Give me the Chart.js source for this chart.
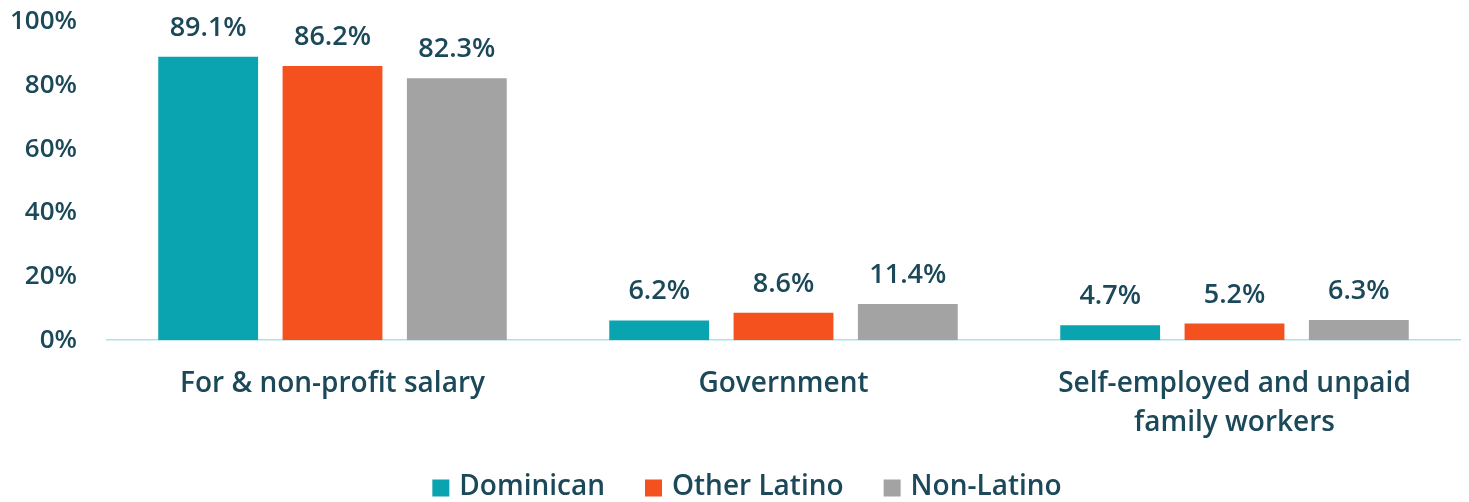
<!DOCTYPE html>
<html>
<head>
<meta charset="utf-8">
<script src="https://cdn.jsdelivr.net/npm/chart.js@4/dist/chart.umd.min.js"></script>
<style>
  html, body { margin: 0; padding: 0; background: #ffffff; }
  #wrap { width: 1469px; height: 502px; position: relative; }
</style>
</head>
<body>
<div id="wrap"><canvas id="c"></canvas></div>
<script>
// Class of worker by group
const categories = [
  'For & non-profit salary',
  'Government',
  ['Self-employed and unpaid', 'family workers']
];
const seriesNames = ['Dominican', 'Other Latino', 'Non-Latino'];
const dominican = [89.1, 6.2, 4.7];
const otherLatino = [86.2, 8.6, 5.2];
const nonLatino = [82.3, 11.4, 6.3];
const yTicks = [0, 20, 40, 60, 80, 100];

const textColor = '#1c4959';
const fontFamily = '"Open Sans", "Noto Sans", sans-serif';
const colors = ['#0aa4b1', '#f4511f', '#a3a3a3'];

// Draws each bar's value above it
const valueLabels = {
  id: 'valueLabels',
  afterDatasetsDraw(chart) {
    const ctx = chart.ctx;
    ctx.save();
    ctx.font = '600 27px ' + fontFamily;
    ctx.fillStyle = textColor;
    ctx.textAlign = 'center';
    ctx.textBaseline = 'alphabetic';
    chart.data.datasets.forEach((ds, i) => {
      chart.getDatasetMeta(i).data.forEach((bar, j) => {
        ctx.fillText(ds.data[j].toFixed(1) + '%', bar.x, bar.y - 21);
      });
    });
    ctx.restore();
  }
};

// Legend row under the axis: square swatch, short gap, series name
const swatchLegend = {
  id: 'swatchLegend',
  afterDraw(chart) {
    const ctx = chart.ctx;
    const box = 17, gapText = 10, gapItem = 40, centerX = 747, midY = 487;
    ctx.save();
    ctx.font = '600 28px ' + fontFamily;
    ctx.textBaseline = 'middle';
    ctx.textAlign = 'left';
    const items = chart.data.datasets.map(ds => ({
      text: ds.label, color: ds.backgroundColor,
      w: ctx.measureText(ds.label).width
    }));
    const total = items.reduce((s, it) => s + box + gapText + it.w, 0) + gapItem * (items.length - 1);
    let x = centerX - total / 2;
    items.forEach(it => {
      ctx.fillStyle = it.color;
      ctx.fillRect(x, midY - box / 2 + 1, box, box);
      x += box + gapText;
      ctx.fillStyle = textColor;
      ctx.fillText(it.text, x, midY);
      x += it.w + gapItem;
    });
    ctx.restore();
  }
};

new Chart(document.getElementById('c'), {
  type: 'bar',
  data: {
    labels: categories,
    datasets: [dominican, otherLatino, nonLatino].map((d, i) => ({
      label: seriesNames[i],
      data: d,
      backgroundColor: colors[i],
      categoryPercentage: 0.827,
      barPercentage: 0.803
    }))
  },
  options: {
    responsive: true,
    maintainAspectRatio: false,
    animation: false,
    layout: { padding: { top: 22, right: 9, left: 10, bottom: 36 } },
    scales: {
      x: {
        grid: { display: false, drawTicks: false },
        border: { display: true, color: '#a9e3ea', width: 1.5 },
        ticks: {
          color: textColor,
          padding: 24,
          maxRotation: 0,
          autoSkip: false,
          font: { family: fontFamily, size: 28, weight: '600', lineHeight: 1.39 }
        }
      },
      y: {
        min: 0,
        max: 100,
        afterFit(scale) {
          scale.width = 97;
          scale.paddingTop = 0;
          scale.paddingBottom = 0;
        },
        afterBuildTicks(scale) { scale.ticks = yTicks.map(v => ({ value: v })); },
        grid: { display: false, drawTicks: false },
        border: { display: false },
        ticks: {
          color: textColor,
          padding: 30,
          font: { family: fontFamily, size: 26, weight: '600' },
          callback: v => v + '%'
        }
      }
    },
    plugins: {
      legend: { display: false },
      tooltip: { enabled: false }
    }
  },
  plugins: [valueLabels, swatchLegend]
});
</script>
</body>
</html>
